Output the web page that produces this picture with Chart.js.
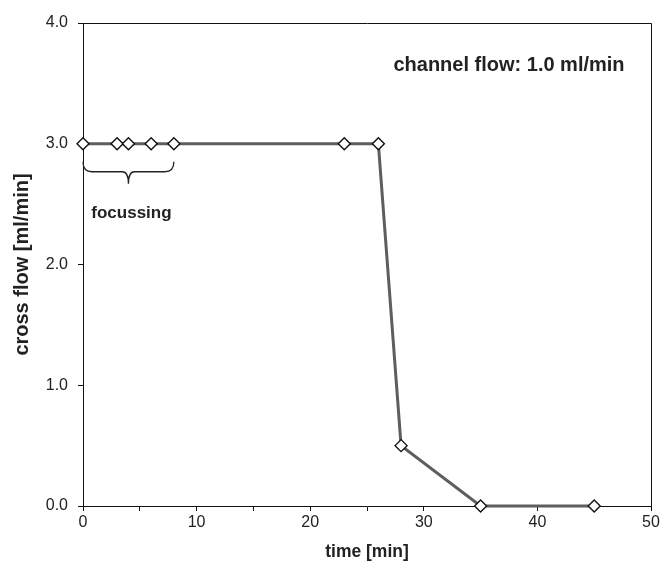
<!DOCTYPE html>
<html>
<head>
<meta charset="utf-8">
<script src="https://cdn.jsdelivr.net/npm/chart.js@4"></script>
<style>
  html, body { margin: 0; padding: 0; background: #fff; }
  #wrap { width: 663px; height: 563px; }
</style>
</head>
<body>
<div id="wrap"><canvas id="flowChart"></canvas></div>
<script>
// cross flow program
var timeMin = [0, 3, 4, 6, 8, 23, 26, 28, 35, 45];
var crossFlow = [3, 3, 3, 3, 3, 3, 3, 0.5, 0, 0];
var xTicks = [0, 10, 20, 30, 40, 50];
var yTicks = [0.0, 1.0, 2.0, 3.0, 4.0];
var focusStart = 0;
var focusEnd = 8;

var fontFamily = '"Liberation Sans", Arial, sans-serif';
var textColor = '#222';

// frame, brace and notes on top of the plot
var extras = {
	id: 'extras',
	afterDatasetsDraw: function(chart) {
		var ctx = chart.ctx;
		var area = chart.chartArea;
		var xs = chart.scales.x;
		var ys = chart.scales.y;

		ctx.save();
		ctx.strokeStyle = '#111';
		ctx.lineWidth = 1;
		ctx.beginPath();
		ctx.moveTo(area.left, area.top + 0.5);
		ctx.lineTo(area.right + 0.5, area.top + 0.5);
		ctx.lineTo(area.right + 0.5, area.bottom);
		ctx.stroke();

		// curly brace under the focussing points
		var x0 = xs.getPixelForValue(focusStart);
		var x1 = xs.getPixelForValue(focusEnd);
		var xm = (x0 + x1) / 2;
		var yTop = ys.getPixelForValue(3) + 18;
		var yMid = yTop + 10;
		var yTip = yMid + 12;
		var r = 6;
		ctx.lineWidth = 1.3;
		ctx.strokeStyle = '#222';
		ctx.beginPath();
		ctx.moveTo(x0, yTop);
		ctx.quadraticCurveTo(x0, yMid, x0 + r * 1.5, yMid);
		ctx.lineTo(xm - r, yMid);
		ctx.quadraticCurveTo(xm, yMid, xm, yTip);
		ctx.quadraticCurveTo(xm, yMid, xm + r, yMid);
		ctx.lineTo(x1 - r * 1.5, yMid);
		ctx.quadraticCurveTo(x1, yMid, x1, yTop);
		ctx.stroke();

		ctx.fillStyle = textColor;
		ctx.font = 'bold 17px ' + fontFamily;
		ctx.textAlign = 'center';
		ctx.textBaseline = 'alphabetic';
		ctx.fillText('focussing', xm + 3, yTip + 34);

		ctx.font = 'bold 20px ' + fontFamily;
		ctx.fillText('channel flow: 1.0 ml/min', area.right - 142, area.top + 48);
		ctx.restore();
	}
};

document.addEventListener('DOMContentLoaded', function() {
	var context = document.getElementById('flowChart').getContext('2d');

	var points = [];
	for(var i = 0; i < timeMin.length; i++) {
		points.push({ x: timeMin[i], y: crossFlow[i] });
	}

	var config = {
		type: 'scatter',
		data: {
			datasets: [
				{
					data: points,
					showLine: true,
					clip: false,
					borderColor: '#5e5e5e',
					borderWidth: 3,
					pointStyle: 'rectRot',
					pointRadius: 6,
					pointHoverRadius: 6,
					pointBackgroundColor: '#fff',
					pointBorderColor: '#111',
					pointBorderWidth: 1.4,
				}
			],
		},
		options: {
			responsive: true,
			maintainAspectRatio: false,
			animation: false,
			events: [],
			layout: {
				padding: { top: 23, right: 12, left: 0, bottom: 0 },
			},
			plugins: {
				legend: { display: false },
				tooltip: { enabled: false },
			},
			scales: {
				x: {
					type: 'linear',
					min: 0,
					max: 50,
					afterFit: function(scale) { scale.height = 57; },
					afterBuildTicks: function(scale) {
						var t = [];
						for(var v = 0; v <= 50; v += 5) t.push({ value: v });
						scale.ticks = t;
					},
					border: { color: '#111', width: 1 },
					grid: {
						drawOnChartArea: false,
						drawTicks: true,
						tickLength: 5,
						color: '#111',
					},
					ticks: {
						autoSkip: false,
						maxRotation: 0,
						padding: 2,
						color: textColor,
						font: { family: fontFamily, size: 16 },
						callback: function(value) {
							return xTicks.indexOf(value) >= 0 ? String(value) : '';
						},
					},
					title: {
						display: true,
						text: 'time [min]',
						color: textColor,
						font: { family: fontFamily, size: 17.5, weight: 'bold' },
						padding: { top: 0, bottom: 0 },
					},
				},
				y: {
					type: 'linear',
					min: 0,
					max: 4,
					afterFit: function(scale) { scale.width = 83; },
					afterBuildTicks: function(scale) {
						scale.ticks = yTicks.map(function(v) { return { value: v }; });
					},
					border: { color: '#111', width: 1 },
					grid: {
						drawOnChartArea: false,
						drawTicks: true,
						tickLength: 5,
						color: '#111',
					},
					ticks: {
						padding: 10,
						color: textColor,
						font: { family: fontFamily, size: 16 },
						callback: function(value) { return value.toFixed(1); },
					},
					title: {
						display: true,
						text: 'cross flow [ml/min]',
						color: textColor,
						font: { family: fontFamily, size: 20, weight: 'bold' },
						padding: { top: 10, bottom: 0 },
					},
				},
			},
		},
		plugins: [extras],
	};

	var chart = new Chart(context, config);
});
</script>
</body>
</html>
